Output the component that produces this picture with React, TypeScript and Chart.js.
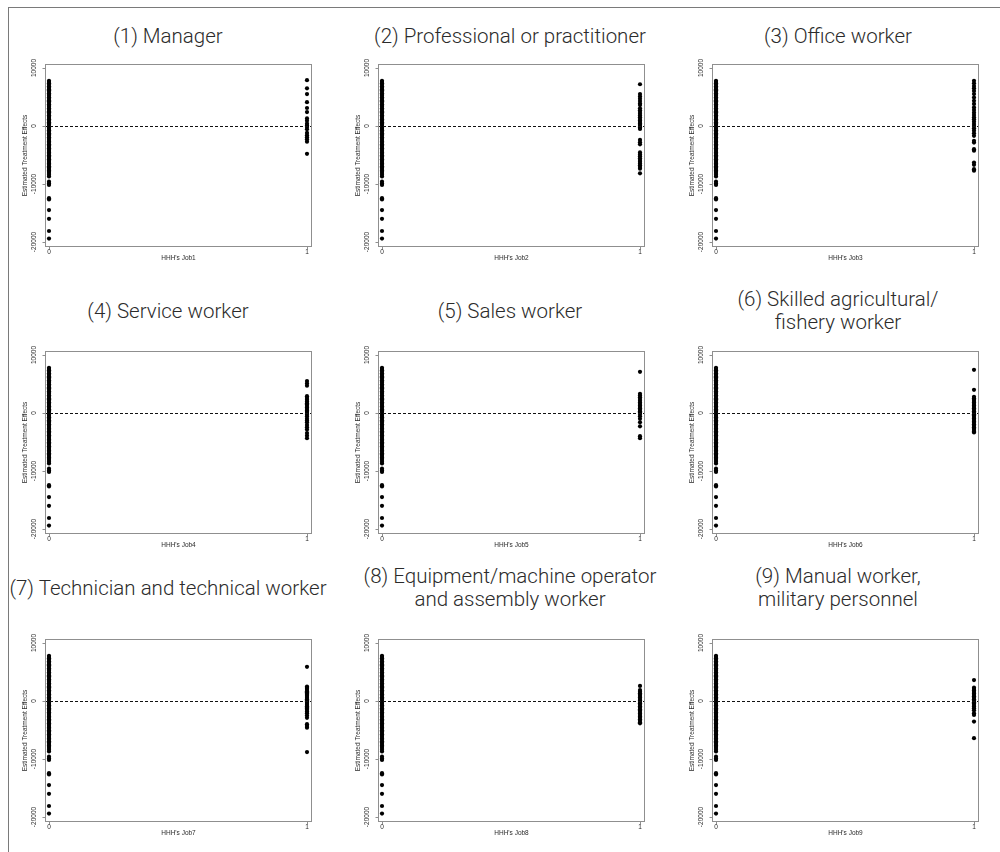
import React, { useEffect, useRef } from "react";
import { Chart, registerables } from "chart.js";

Chart.register(...registerables);

// Panel headings (one or two lines each)
const panelTitles: string[][] = [
  ["(1) Manager"],
  ["(2) Professional or practitioner"],
  ["(3) Office worker"],
  ["(4) Service worker"],
  ["(5) Sales worker"],
  ["(6) Skilled agricultural/", "fishery worker"],
  ["(7) Technician and technical worker"],
  ["(8) Equipment/machine operator", "and assembly worker"],
  ["(9) Manual worker,", "military personnel"],
];

const xAxisTitles = [
  "HHH's Job1",
  "HHH's Job2",
  "HHH's Job3",
  "HHH's Job4",
  "HHH's Job5",
  "HHH's Job6",
  "HHH's Job7",
  "HHH's Job8",
  "HHH's Job9",
];
const yAxisTitle = "Estimated Treatment Effects";

const xTickValues = [0, 1];
const xTickLabels = ["0", "1"];
const yTickValues = [-20000, -10000, 0, 10000];
const yTickLabels = ["-20000", "-10000", "0", "10000"];

// Estimated treatment effects of households whose head is NOT in the job group (x = 0)
const effectsOutsideGroup = [
  7800, 7600, 7350, 7100, 6850, 6600, 6350, 6150, 5900, 5650, 5400, 5200, 4950,
  4700, 4450, 4250, 4000, 3750, 3500, 3300, 3050, 2800, 2550, 2350, 2100, 1850,
  1600, 1400, 1150, 900, 650, 450, 200, -50, -300, -500, -750, -1000, -1250,
  -1450, -1700, -1950, -2200, -2400, -2650, -2900, -3150, -3350, -3600, -3850,
  -4100, -4300, -4550, -4800, -5050, -5250, -5500, -5750, -6000, -6200, -6450,
  -6700, -6950, -7150, -7400, -7650, -7900, -8100, -8400, -8700, -9600, -9900,
  -10150, -12450, -12650, -14500, -16000, -18100, -19400,
];

// Estimated treatment effects of households whose head IS in the job group (x = 1)
const effectsJob1 = [
  7900, 6500, 5500, 4100, 3100, 2400, 1300, 900, 400, 100, -150, -550, -1200,
  -1600, -1950, -2300, -2700, -4800,
];
const effectsJob2 = [
  7200, 5500, 5100, 4700, 4300, 3900, 3600, 3050, 2700, 2400, 2100, 1800, 1500,
  1200, 950, 700, 450, 200, 0, -250, -500, -2400, -2800, -3150, -4550, -4900,
  -5200, -5550, -5850, -6150, -6450, -6750, -7050, -7350, -8150,
];
const effectsJob3 = [
  7800, 7350, 6900, 6500, 6050, 5500, 4900, 4350, 3800, 3200, 2750, 2300, 1900,
  1500, 1150, 750, 350, 0, -400, -800, -1250, -1700, -2550, -2850, -4000, -4250,
  -6300, -6700, -7450, -7700,
];
const effectsJob4 = [
  5500, 5100, 4700, 2900, 2600, 2300, 2000, 1700, 1450, 1200, 950, 700, 450,
  200, 0, -300, -600, -1000, -1300, -1600, -2050, -2450, -2850, -3450, -3900,
  -4350,
];
const effectsJob5 = [
  7100, 3300, 3000, 2700, 2400, 2100, 1800, 1550, 1300, 1050, 800, 550, 300,
  100, -150, -550, -1000, -1600, -2300, -4000, -4350,
];
const effectsJob6 = [
  7450, 4000, 2800, 2550, 2300, 2050, 1800, 1550, 1300, 1050, 800, 550, 300, 50,
  -200, -450, -700, -950, -1200, -1450, -1700, -1950, -2200, -2450, -2700,
  -2950, -3200, -3350,
];
const effectsJob7 = [
  5900, 2500, 2300, 2100, 1900, 1700, 1500, 1300, 1100, 900, 700, 500, 300, 100,
  -100, -300, -500, -700, -900, -1100, -1300, -1500, -1800, -2100, -2500,
  -2900, -4000, -4300, -4600, -8800,
];
const effectsJob8 = [
  2600, 1900, 1600, 1350, 1100, 850, 600, 350, 100, -150, -400, -650, -900,
  -1150, -1400, -1650, -1900, -2150, -2400, -2650, -2900, -3150, -3400, -3650,
  -3850,
];
const effectsJob9 = [
  3600, 2300, 2050, 1800, 1550, 1300, 1050, 800, 550, 300, 50, -200, -450, -700,
  -950, -1250, -1600, -2100, -2400, -3550, -6400,
];

const effectsInGroup = [
  effectsJob1,
  effectsJob2,
  effectsJob3,
  effectsJob4,
  effectsJob5,
  effectsJob6,
  effectsJob7,
  effectsJob8,
  effectsJob9,
];

// Grid geometry (plot boxes and heading centres)
const BOX_LEFT = [45, 378, 712];
const BOX_TOP = [64, 351, 639];
const BOX_W = 267;
const BOX_H = 183;
const TITLE_X = [168, 510, 838];
const TITLE_Y = [36, 311, 588];

const PAD_L = 40;
const PAD_T = 12;
const PAD_R = 8;
const PAD_B = 24;

const AXIS_FONT = "6.5px 'Liberation Sans', Arial, sans-serif";
const AXIS_TEXT = "#2a2a2a";
const BOX_COLOR = "#8f8f8f";

// Draws the R-style frame, axes, tick labels and the dashed zero line
const baseGraphicsPlugin = {
  id: "baseGraphics",
  afterDatasetsDraw(chart: any, _args: any, opts: any) {
    const { ctx, chartArea, scales } = chart;
    const { left, right, top, bottom } = chartArea;
    const xs = scales.x;
    const ys = scales.y;
    ctx.save();

    // dashed reference line at zero
    const y0 = Math.round(ys.getPixelForValue(0)) + 0.5;
    ctx.beginPath();
    ctx.setLineDash([3, 2]);
    ctx.strokeStyle = "#111";
    ctx.lineWidth = 1;
    ctx.moveTo(left, y0);
    ctx.lineTo(right, y0);
    ctx.stroke();
    ctx.setLineDash([]);

    // plot frame
    ctx.strokeStyle = BOX_COLOR;
    ctx.lineWidth = 1;
    ctx.strokeRect(
      Math.round(left) + 0.5,
      Math.round(top) + 0.5,
      Math.round(right - left) - 1,
      Math.round(bottom - top) - 1
    );

    ctx.font = AXIS_FONT;
    ctx.fillStyle = AXIS_TEXT;

    // y axis ticks and rotated labels
    const lx = Math.round(left) + 0.5;
    yTickValues.forEach((v, i) => {
      const py = Math.round(ys.getPixelForValue(v)) + 0.5;
      ctx.beginPath();
      ctx.moveTo(lx, py);
      ctx.lineTo(lx - 3, py);
      ctx.stroke();
      ctx.save();
      ctx.translate(left - 11, ys.getPixelForValue(v));
      ctx.rotate(-Math.PI / 2);
      ctx.textAlign = "center";
      ctx.textBaseline = "middle";
      ctx.fillText(yTickLabels[i], 0, 0);
      ctx.restore();
    });
    ctx.save();
    ctx.translate(left - 19.5, (top + bottom) / 2);
    ctx.rotate(-Math.PI / 2);
    ctx.textAlign = "center";
    ctx.textBaseline = "middle";
    ctx.fillText(yAxisTitle, 0, 0);
    ctx.restore();

    // x axis ticks and labels
    const by = Math.round(bottom) - 0.5;
    xTickValues.forEach((v, i) => {
      const px = Math.round(xs.getPixelForValue(v)) + 0.5;
      ctx.beginPath();
      ctx.moveTo(px, by);
      ctx.lineTo(px, by + 3);
      ctx.stroke();
      ctx.textAlign = "center";
      ctx.textBaseline = "middle";
      ctx.fillText(xTickLabels[i], xs.getPixelForValue(v), bottom + 5);
    });
    ctx.textAlign = "center";
    ctx.textBaseline = "middle";
    ctx.fillText(opts.xTitle, (left + right) / 2, bottom + 11.5);

    ctx.restore();
  },
};

function Panel({ index }: { index: number }) {
  const ref = useRef<HTMLCanvasElement | null>(null);
  const col = index % 3;
  const row = Math.floor(index / 3);
  const width = BOX_W + PAD_L + PAD_R;
  const height = BOX_H + PAD_T + PAD_B;

  useEffect(() => {
    if (!ref.current) return;
    const chart = new Chart(ref.current, {
      type: "scatter",
      data: {
        datasets: [
          {
            data: effectsOutsideGroup.map((v) => ({ x: 0, y: v })),
            pointRadius: 2.1,
            pointBackgroundColor: "#000",
            pointBorderWidth: 0,
          },
          {
            data: effectsInGroup[index].map((v) => ({ x: 1, y: v })),
            pointRadius: 2.1,
            pointBackgroundColor: "#000",
            pointBorderWidth: 0,
          },
        ],
      },
      options: {
        animation: false,
        responsive: false,
        events: [],
        layout: {
          padding: { left: PAD_L, top: PAD_T, right: PAD_R, bottom: PAD_B },
        },
        scales: {
          x: { type: "linear", min: -0.0155, max: 1.0194, display: false },
          y: { type: "linear", min: -20860, max: 10690, display: false },
        },
        plugins: {
          legend: { display: false },
          tooltip: { enabled: false },
          title: { display: false },
          baseGraphics: { xTitle: xAxisTitles[index] },
        } as any,
      },
      plugins: [baseGraphicsPlugin],
    });
    return () => chart.destroy();
  }, [index]);

  return (
    <>
      <div
        style={{
          position: "absolute",
          left: TITLE_X[col],
          top: TITLE_Y[row],
          transform: "translate(-50%, -50%)",
          textAlign: "center",
          whiteSpace: "nowrap",
          fontFamily: "Roboto, 'Liberation Sans', sans-serif",
          fontWeight: 300,
          fontSize: 20.5,
          lineHeight: "23px",
          color: "#2b2b2b",
        }}
      >
        {panelTitles[index].map((line, i) => (
          <div key={i}>{line}</div>
        ))}
      </div>
      <canvas
        ref={ref}
        width={width}
        height={height}
        style={{
          position: "absolute",
          left: BOX_LEFT[col] - PAD_L,
          top: BOX_TOP[row] - PAD_T,
          width,
          height,
        }}
      />
    </>
  );
}

export default function App() {
  return (
    <div
      style={{
        position: "absolute",
        left: 0,
        top: 0,
        width: 1000,
        height: 852,
        background: "#fff",
        overflow: "hidden",
      }}
    >
      <div
        style={{
          position: "absolute",
          left: 8,
          top: 7,
          width: 1000,
          height: 860,
          borderTop: "1px solid #7a7a7a",
          borderLeft: "1px solid #7a7a7a",
        }}
      />
      {panelTitles.map((_, i) => (
        <Panel key={i} index={i} />
      ))}
    </div>
  );
}
